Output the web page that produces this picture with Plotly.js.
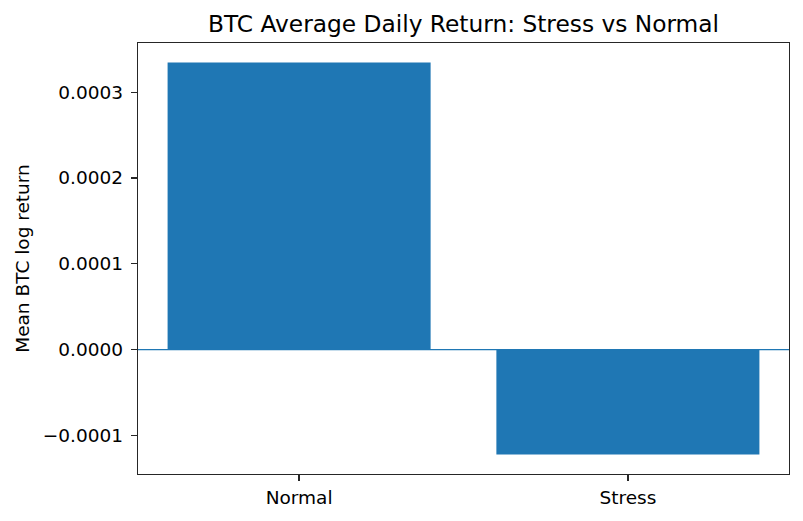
<!DOCTYPE html>
<html>
<head>
<meta charset="utf-8">
<script src="https://cdn.plot.ly/plotly-3.0.1.min.js"></script>
<style>
  html, body { margin: 0; padding: 0; background: #fff; }
  #chart { width: 803px; height: 521px; }
</style>
</head>
<body>
<div id="chart"></div>
<script>
// values
const regimes = ['Normal', 'Stress'];
const meanReturns = [0.0003345, -0.0001222];
const yTickVals = [-0.0001, 0, 0.0001, 0.0002, 0.0003];

const barColor = '#1f77b4';
const axisColor = '#262626';

const data = [{
    type: 'bar',
    x: regimes,
    y: meanReturns,
    width: 0.8,
    marker: { color: barColor, line: { width: 0 } },
    hoverinfo: 'x+y'
}];

const layout = {
    width: 803,
    height: 521,
    margin: { l: 138, r: 14, t: 43, b: 47 },
    paper_bgcolor: '#ffffff',
    plot_bgcolor: '#ffffff',
    font: { family: 'DejaVu Sans', size: 18.5, color: '#000000' },
    showlegend: false,
    title: {
        text: 'BTC Average Daily Return: Stress vs Normal',
        font: { size: 23.3, color: '#000000' },
        xref: 'paper', x: 0.5, xanchor: 'center',
        yref: 'container', y: 1 - 24 / 521, yanchor: 'middle'
    },
    xaxis: {
        type: 'category',
        range: [-0.49, 1.49],
        showgrid: false,
        zeroline: false,
        showline: true,
        mirror: true,
        linecolor: axisColor,
        linewidth: 1.3,
        ticks: 'outside',
        ticklen: 6,
        tickwidth: 1.3,
        tickcolor: axisColor,
        tickfont: { size: 18.5 }
    },
    yaxis: {
        range: [-0.0001450, 0.0003573],
        tickvals: yTickVals,
        tickformat: '.4f',
        showgrid: false,
        zeroline: false,
        showline: true,
        mirror: true,
        linecolor: axisColor,
        linewidth: 1.3,
        ticks: 'outside',
        ticklen: 6,
        tickwidth: 1.3,
        tickcolor: axisColor,
        ticklabelstandoff: 4,
        tickfont: { size: 18.5 },
        title: {
            text: 'Mean BTC log return',
            font: { size: 18.5 },
            standoff: 8
        }
    },
    // horizontal reference line at zero, same colour as the bars
    shapes: [{
        type: 'line',
        xref: 'paper', x0: 0, x1: 1,
        yref: 'y', y0: 0, y1: 0,
        line: { color: barColor, width: 1.4 },
        layer: 'above'
    }]
};

Plotly.newPlot('chart', data, layout, { displayModeBar: false, staticPlot: true });
</script>
</body>
</html>
